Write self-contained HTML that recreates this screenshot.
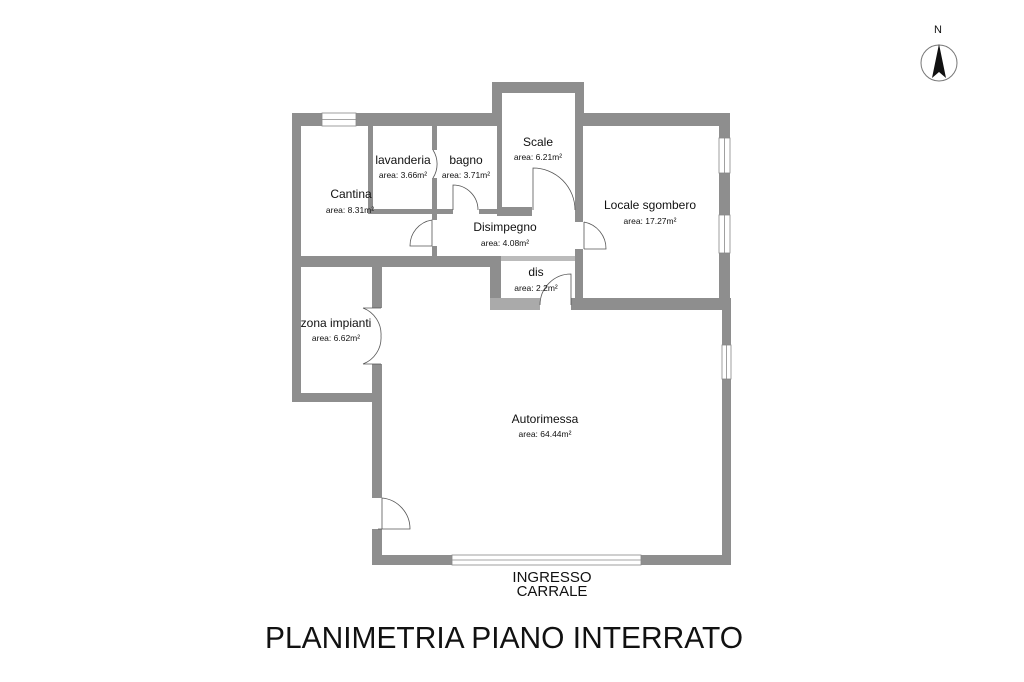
<!DOCTYPE html>
<html><head><meta charset="utf-8"><style>
html,body{margin:0;padding:0;background:#fff;}
svg{display:block;}
.w{fill:#8e8e8e;}
.r{font-family:"Liberation Sans",sans-serif;font-size:12px;fill:#111;text-anchor:middle;}
.a{font-family:"Liberation Sans",sans-serif;font-size:8.5px;fill:#111;text-anchor:middle;}
.d{fill:none;stroke:#555;stroke-width:0.8;}
.win{fill:#fff;stroke:#888;stroke-width:0.8;}
</style></head><body>
<svg width="1024" height="682" viewBox="0 0 1024 682" xmlns="http://www.w3.org/2000/svg">
<rect width="1024" height="682" fill="#fff"/>
<!-- exterior walls -->
<rect class="w" x="292" y="113" width="209" height="13"/>
<rect class="w" x="492" y="82" width="9" height="44"/>
<rect class="w" x="492" y="82" width="92" height="11"/>
<rect class="w" x="575" y="82" width="9" height="44"/>
<rect class="w" x="575" y="113" width="155" height="13"/>
<rect class="w" x="719" y="113" width="11" height="197"/>
<rect class="w" x="722" y="298" width="9" height="267"/>
<rect class="w" x="372" y="555" width="359" height="10"/>
<rect class="w" x="292" y="113" width="9" height="289"/>
<rect class="w" x="292" y="393" width="90" height="9"/>
<rect class="w" x="372" y="267" width="10" height="288"/>
<!-- interior -->
<rect class="w" x="292" y="256" width="209" height="11"/>
<rect x="501" y="256" width="74" height="5" fill="#bbb"/>
<rect class="w" x="490" y="256" width="11" height="54"/>
<rect x="490" y="298" width="50" height="12" fill="#aaa"/>
<rect class="w" x="571" y="298" width="160" height="12"/>
<rect class="w" x="575" y="113" width="8" height="197"/>
<rect class="w" x="368" y="126" width="5" height="88"/>
<rect class="w" x="368" y="209" width="69" height="5"/>
<rect class="w" x="432" y="126" width="5" height="130"/>
<rect class="w" x="437" y="209" width="60" height="5"/>
<rect class="w" x="497" y="93" width="5" height="123"/>
<rect class="w" x="502" y="207" width="30" height="9"/>
<!-- openings -->
<rect class="win" x="322" y="113" width="34" height="13"/>
<line x1="322" y1="119.5" x2="356" y2="119.5" stroke="#888" stroke-width="0.8"/>
<rect class="win" x="719" y="138" width="11" height="35"/>
<rect class="win" x="719" y="215" width="11" height="38"/>
<line x1="724.5" y1="138" x2="724.5" y2="173" stroke="#888" stroke-width="0.8"/>
<line x1="724.5" y1="215" x2="724.5" y2="253" stroke="#888" stroke-width="0.8"/>
<rect class="win" x="722" y="345" width="9" height="34"/>
<line x1="726.5" y1="345" x2="726.5" y2="379" stroke="#888" stroke-width="0.8"/>
<rect class="win" x="452" y="555" width="189" height="10"/>
<line x1="452" y1="560" x2="641" y2="560" stroke="#888" stroke-width="0.8"/>
<rect x="371" y="498" width="12" height="31" fill="#fff"/>
<rect x="371" y="308" width="12" height="56" fill="#fff"/>
<rect x="574" y="222" width="10" height="27" fill="#fff"/>
<rect x="431" y="220" width="7" height="26" fill="#fff"/>
<rect x="453" y="208" width="26" height="7" fill="#fff"/>
<rect x="532" y="206" width="43" height="11" fill="#fff"/>
<rect x="540" y="297" width="31" height="14" fill="#fff"/>
<rect x="431" y="150" width="7" height="28" fill="#fff"/>
<!-- door swings -->
<path class="d" d="M382 498 L382 529 M382 498 A31 31 0 0 1 410 529 L378 529"/>
<path class="d" d="M363 308 L381 308 M381 336 A28 28 0 0 0 363 308 M363 364 L381 364 M381 336 A28 28 0 0 1 363 364"/>
<path class="d" d="M584 222 L584 249 M584 222 A27 27 0 0 1 606 249 L584 249"/>
<path class="d" d="M432 220 L432 246 M432 220 A26 26 0 0 0 410 246 L432 246"/>
<path class="d" d="M453 210 L453 185 A25 25 0 0 1 478 210"/>
<path class="d" d="M533 210 L533 168 A42 42 0 0 1 575 210"/>
<path class="d" d="M571 305 L571 274 A31 31 0 0 0 540 305"/>
<path class="d" d="M433 150 A26 26 0 0 1 433 178"/>
<!-- labels -->
<text class="r" x="351" y="198">Cantina</text><text class="a" x="350" y="213">area: 8.31m²</text>
<text class="r" x="403" y="164">lavanderia</text><text class="a" x="403" y="178">area: 3.66m²</text>
<text class="r" x="466" y="164">bagno</text><text class="a" x="466" y="178">area: 3.71m²</text>
<text class="r" x="538" y="146">Scale</text><text class="a" x="538" y="160">area: 6.21m²</text>
<text class="r" x="650" y="209">Locale sgombero</text><text class="a" x="650" y="224">area: 17.27m²</text>
<text class="r" x="505" y="231">Disimpegno</text><text class="a" x="505" y="246">area: 4.08m²</text>
<text class="r" x="536" y="276">dis</text><text class="a" x="536" y="291">area: 2.2m²</text>
<text class="r" x="336" y="327">zona impianti</text><text class="a" x="336" y="341">area: 6.62m²</text>
<text class="r" x="545" y="423">Autorimessa</text><text class="a" x="545" y="437">area: 64.44m²</text>
<text x="552" y="582" font-family="Liberation Sans,sans-serif" font-size="15" text-anchor="middle" fill="#111">INGRESSO</text>
<text x="552" y="596" font-family="Liberation Sans,sans-serif" font-size="15" text-anchor="middle" fill="#111">CARRALE</text>
<text x="265" y="648" font-family="Liberation Sans,sans-serif" font-size="31" fill="#111" textLength="478" lengthAdjust="spacingAndGlyphs">PLANIMETRIA PIANO INTERRATO</text>
<!-- compass -->
<text x="938" y="33" font-family="Liberation Sans,sans-serif" font-size="11" text-anchor="middle" fill="#111">N</text>
<circle cx="939" cy="63" r="18" fill="none" stroke="#777" stroke-width="1"/>
<path d="M939 44 L932 78 L939 72 L946 78 Z" fill="#111"/>
</svg>
</body></html>
